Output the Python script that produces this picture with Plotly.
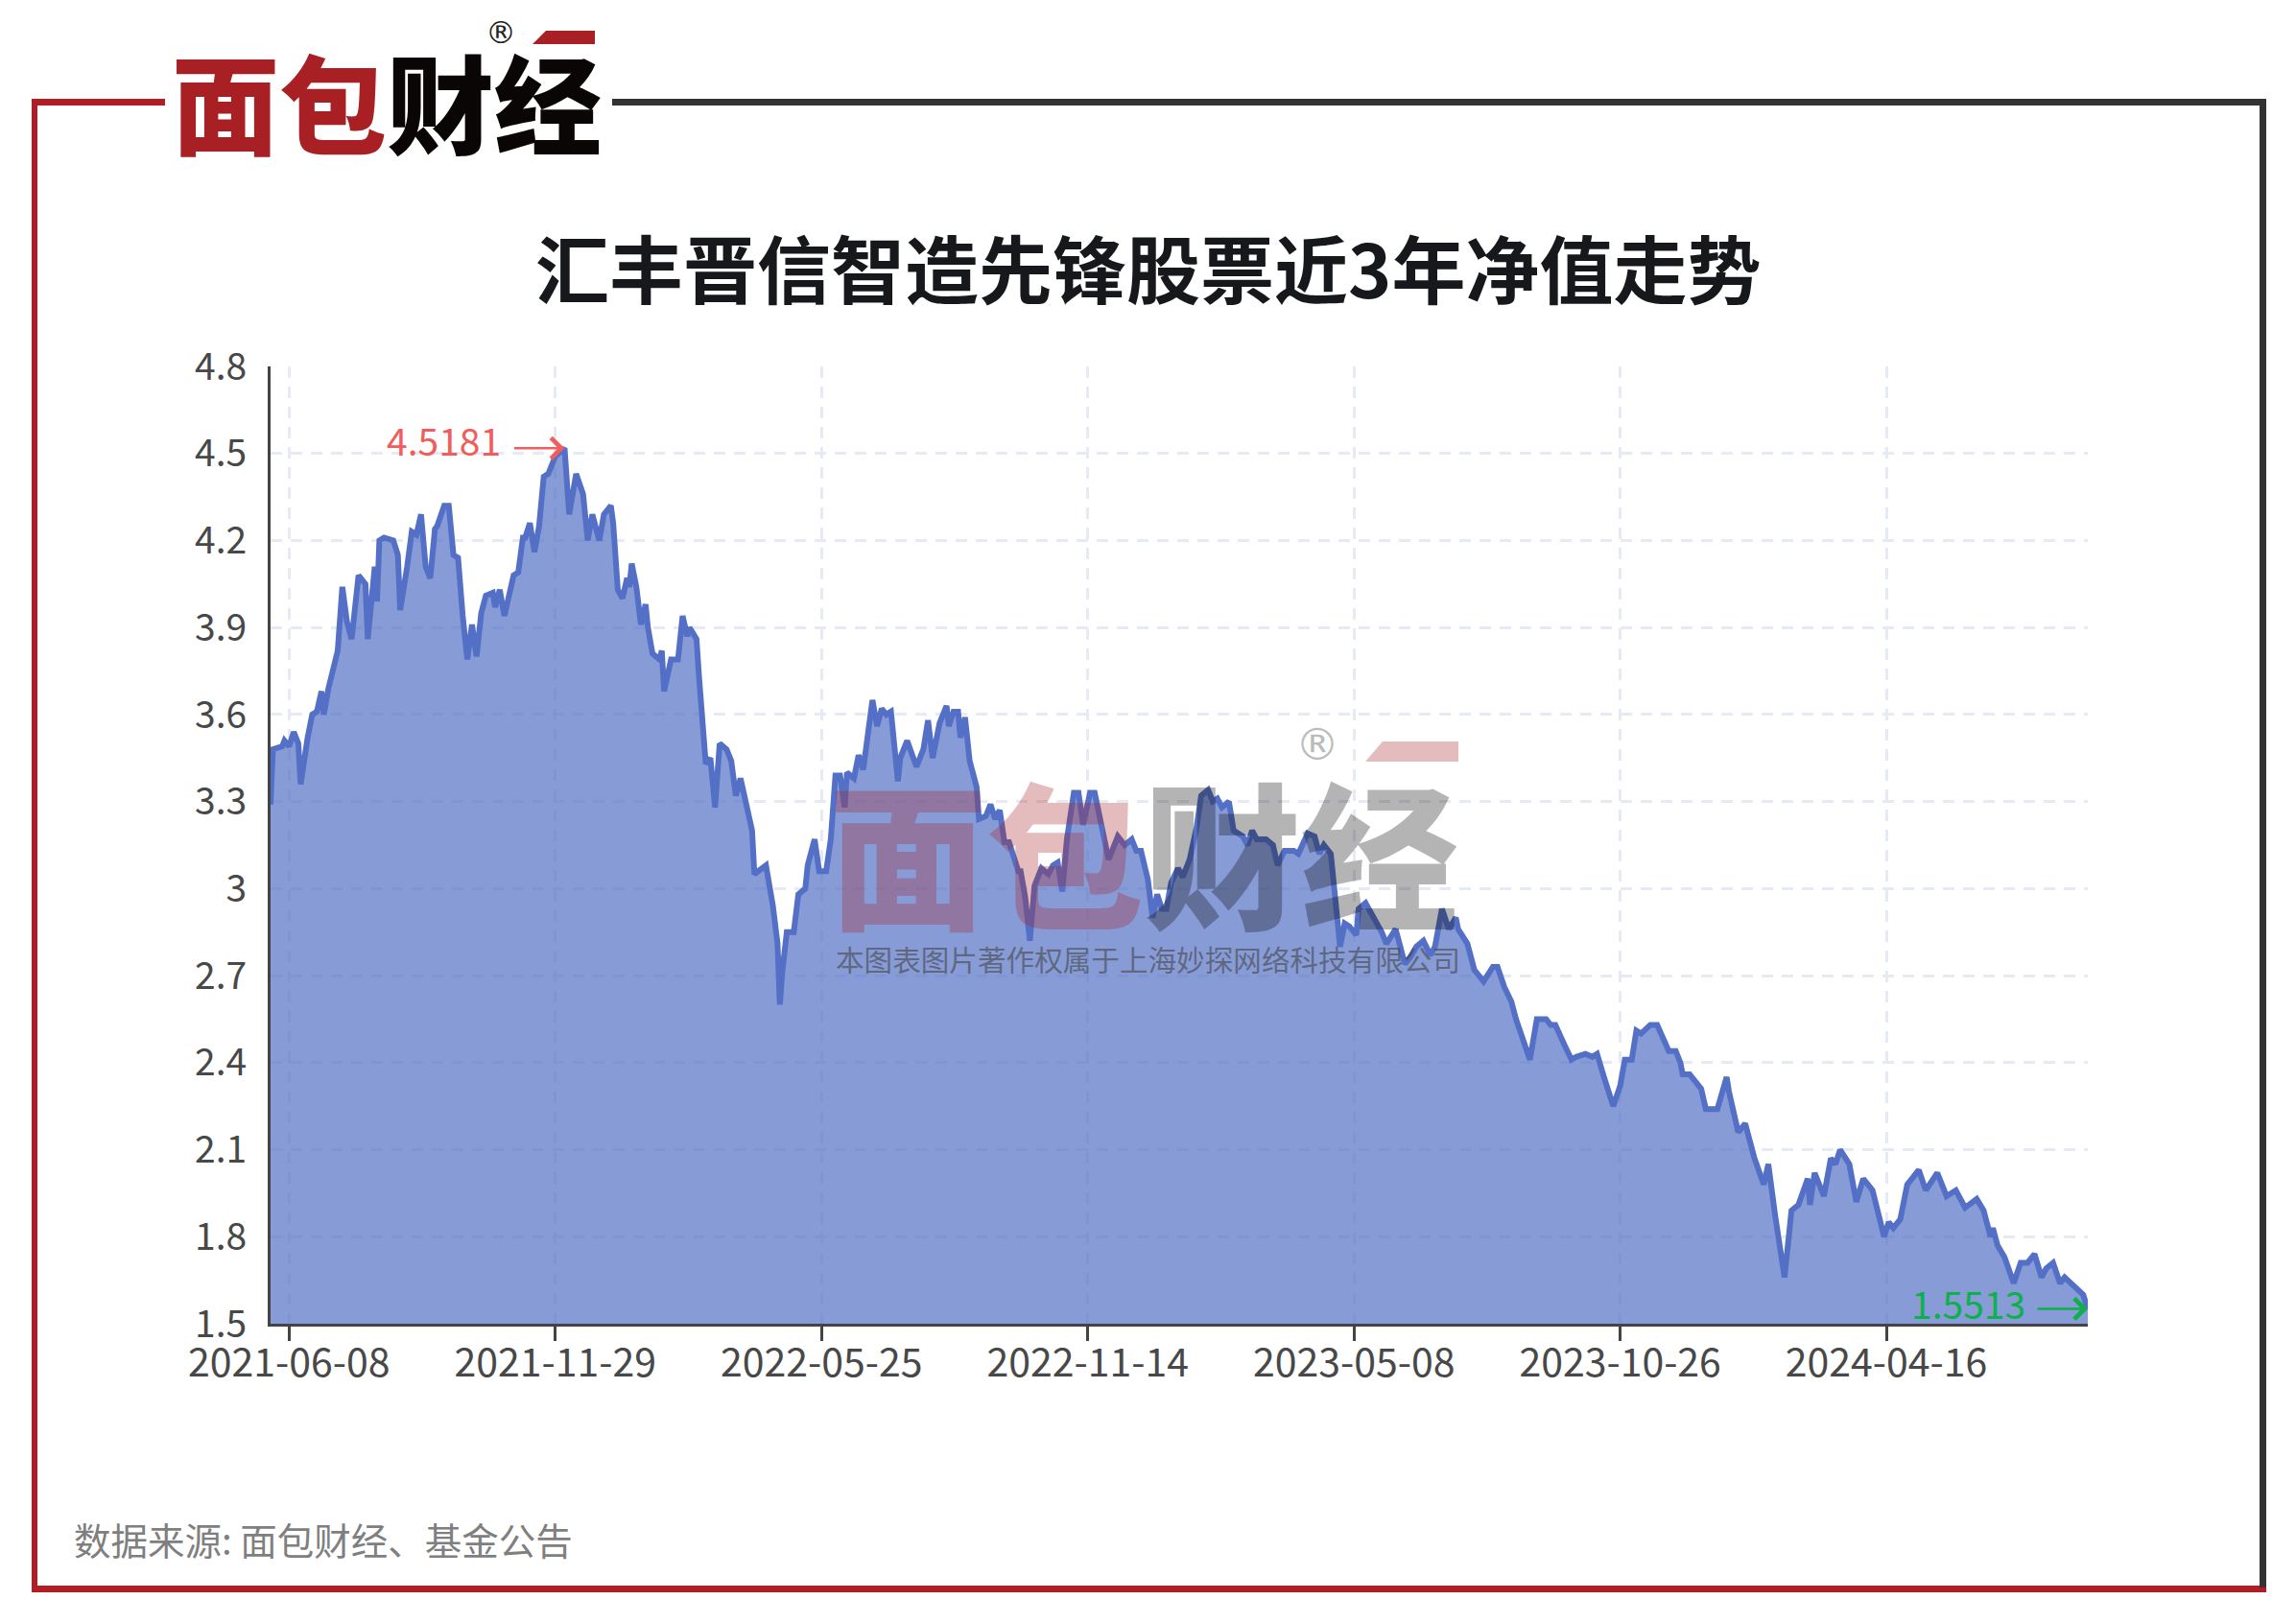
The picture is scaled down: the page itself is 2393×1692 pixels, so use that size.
import plotly.graph_objects as go

W, H = 2393, 1692

title_text = "汇丰晋信智造先锋股票近3年净值走势"
source_text = "数据来源: 面包财经、基金公告"
copyright_text = "本图表图片著作权属于上海妙探网络科技有限公司"
y_ticks = [1.5, 1.8, 2.1, 2.4, 2.7, 3.0, 3.3, 3.6, 3.9, 4.2, 4.5, 4.8]
y_labels = ["1.5", "1.8", "2.1", "2.4", "2.7", "3", "3.3", "3.6", "3.9", "4.2", "4.5", "4.8"]
x_tick_index = [8, 123, 238, 353, 468, 583, 698]
x_labels = ["2021-06-08", "2021-11-29", "2022-05-25", "2022-11-14", "2023-05-08", "2023-10-26", "2024-04-16"]

session = [
    0, 1, 5, 6, 8, 10, 12, 13, 16, 18, 20, 22, 23, 25, 29, 31, 33, 35, 38, 41, 42, 45, 46, 47, 49, 53, 55, 56, 59, 61,
    63, 65, 67, 69, 71, 72, 75, 77, 79, 81, 83, 85, 87, 89, 91, 93, 96, 97, 99, 101, 103, 105, 107, 109, 110, 112, 114, 116, 118, 120,
    123, 127, 129, 132, 135, 137, 139, 142, 144, 147, 148, 149, 150, 152, 154, 155, 156, 158, 160, 162, 163, 165, 168, 169, 170, 173, 176, 178, 180, 181,
    184, 185, 188, 190, 192, 194, 197, 199, 201, 203, 206, 208, 209, 214, 217, 219, 220, 221, 223, 226, 228, 231, 232, 235, 237, 240, 242, 244, 246, 248,
    249, 252, 254, 256, 258, 260, 262, 264, 266, 268, 271, 272, 275, 279, 282, 284, 286, 289, 292, 293, 295, 297, 298, 300, 302, 305, 306, 309, 311, 313,
    315, 317, 319, 321, 323, 324, 326, 328, 330, 333, 336, 338, 340, 342, 344, 347, 349, 351, 354, 356, 359, 362, 366, 369, 372, 374, 376, 379, 381, 383,
    385, 387, 389, 392, 394, 397, 400, 402, 405, 407, 409, 411, 414, 416, 420, 422, 424, 426, 430, 433, 435, 438, 442, 444, 448, 451, 453, 455, 458, 460,
    461, 462, 464, 466, 469, 470, 473, 476, 480, 482, 486, 488, 490, 492, 495, 498, 501, 503, 506, 509, 512, 513, 517, 520, 524, 528, 530, 533, 536, 538,
    541, 544, 547, 551, 553, 555, 559, 562, 564, 568, 571, 573, 576, 580, 583, 585, 588, 590, 592, 596, 599, 602, 604, 607, 609, 610, 613, 618, 620, 625,
    629, 630, 634, 637, 640, 641, 645, 647, 650, 654, 657, 660, 664, 665, 667, 671, 674, 676, 678, 682, 685, 688, 692, 697, 699, 701, 704, 707, 709, 712,
    715, 720, 724, 728, 732, 737, 740, 743, 744, 746, 749, 753, 756, 759, 762, 765, 767, 770, 773, 775, 779, 783, 785,
]
nav = [
    3.29, 3.48, 3.49, 3.51, 3.49, 3.54, 3.50, 3.36, 3.52, 3.60, 3.61, 3.68, 3.60, 3.69, 3.82, 4.04, 3.92, 3.86, 4.08, 4.05, 3.86, 4.11, 3.99, 4.20, 4.21, 4.20, 4.15, 3.96, 4.11, 4.23,
    4.22, 4.29, 4.11, 4.07, 4.24, 4.25, 4.32, 4.32, 4.15, 4.14, 3.94, 3.79, 3.91, 3.80, 3.95, 4.01, 4.02, 3.97, 4.03, 3.94, 4.01, 4.08, 4.09, 4.21, 4.21, 4.26, 4.16, 4.25, 4.42, 4.43,
    4.49, 4.5181, 4.29, 4.43, 4.36, 4.20, 4.29, 4.20, 4.29, 4.32, 4.26, 4.10, 4.03, 4.00, 4.07, 4.04, 4.12, 4.04, 3.91, 3.98, 3.90, 3.81, 3.79, 3.82, 3.68, 3.79, 3.79, 3.94, 3.87, 3.90,
    3.86, 3.74, 3.43, 3.45, 3.28, 3.50, 3.48, 3.44, 3.32, 3.38, 3.28, 3.20, 3.05, 3.08, 2.94, 2.81, 2.60, 2.71, 2.85, 2.85, 2.98, 3.00, 3.08, 3.17, 3.06, 3.06, 3.17, 3.39, 3.39, 3.28,
    3.40, 3.38, 3.46, 3.41, 3.53, 3.65, 3.56, 3.62, 3.60, 3.61, 3.37, 3.45, 3.51, 3.42, 3.48, 3.58, 3.45, 3.57, 3.63, 3.56, 3.61, 3.61, 3.52, 3.59, 3.44, 3.35, 3.24, 3.25, 3.29, 3.24,
    3.27, 3.16, 3.16, 3.11, 3.06, 3.06, 2.97, 2.82, 3.01, 3.07, 3.05, 3.08, 3.09, 2.99, 3.17, 3.33, 3.33, 3.22, 3.33, 3.33, 3.21, 3.10, 3.18, 3.15, 3.17, 3.13, 3.13, 3.03, 2.90, 2.98,
    2.93, 2.93, 3.02, 3.07, 3.04, 3.10, 3.21, 3.32, 3.34, 3.30, 3.31, 3.28, 3.30, 3.20, 3.18, 3.15, 3.20, 3.17, 3.17, 3.15, 3.08, 3.13, 3.13, 3.12, 3.19, 3.18, 3.12, 3.15, 3.12, 2.98,
    2.88, 2.80, 2.88, 2.87, 2.84, 2.93, 2.95, 2.91, 2.85, 2.81, 2.86, 2.80, 2.74, 2.76, 2.80, 2.82, 2.77, 2.80, 2.93, 2.86, 2.90, 2.86, 2.81, 2.72, 2.68, 2.73, 2.73, 2.66, 2.61, 2.55,
    2.48, 2.41, 2.55, 2.55, 2.53, 2.53, 2.46, 2.41, 2.42, 2.43, 2.42, 2.43, 2.35, 2.25, 2.32, 2.41, 2.41, 2.51, 2.50, 2.53, 2.53, 2.48, 2.44, 2.44, 2.40, 2.36, 2.36, 2.31, 2.24, 2.24,
    2.35, 2.30, 2.16, 2.19, 2.10, 2.07, 1.98, 2.05, 1.87, 1.66, 1.89, 1.91, 2.00, 1.91, 2.02, 1.94, 2.07, 2.05, 2.10, 2.05, 1.92, 2.00, 1.96, 1.80, 1.85, 1.83, 1.86, 1.98, 2.00, 2.03,
    1.96, 2.02, 1.94, 1.96, 1.90, 1.93, 1.89, 1.80, 1.83, 1.77, 1.73, 1.64, 1.71, 1.71, 1.74, 1.66, 1.69, 1.71, 1.64, 1.66, 1.63, 1.60, 1.5513,
]
peak_label = "4.5181"
last_label = "1.5513"

RED, DARK = "#b21c24", "#333333"
LOGO_RED, LOGO_BLACK = "#a82024", "#0a0606"
FONT = "Noto Sans CJK SC"


def fx(px):
    return px / W


def fy(py):
    return 1 - py / H


def block(x0, y0, x1, y1, color):
    return dict(type="rect", xref="paper", yref="paper", x0=fx(x0), x1=fx(x1), y0=fy(y0), y1=fy(y1),
                fillcolor=color, line_width=0, layer="above")


def poly(points, color):
    path = "M " + " L ".join(f"{fx(a):.5f},{fy(b):.5f}" for a, b in points) + " Z"
    return dict(type="path", xref="paper", yref="paper", path=path, fillcolor=color, line_width=0, layer="above")


def text(px, py, s, size, color, anchor="left", weight=None, family=FONT):
    return dict(xref="paper", yref="paper", x=fx(px), y=fy(py), text=s, showarrow=False, xanchor=anchor, yanchor="middle",
                font=dict(size=size, color=color, family=family, weight=weight))


fig = go.Figure(go.Scatter(x=session, y=nav, mode="lines", line=dict(color="#5470c6", width=6),
                           fill="tozeroy", fillcolor="rgba(84,112,198,0.70)", hoverinfo="skip"))

grid = dict(showgrid=True, gridcolor="#e6eaf4", gridwidth=3, griddash="12px,9px", zeroline=False, automargin=False)

shapes = [
    block(33, 103, 172, 110, RED), block(33, 103, 39, 1660, RED), block(33, 1653, 2362, 1660, RED),
    block(638, 103, 2362, 110, DARK), block(2355, 103, 2362, 1655, DARK),
    poly([(569, 32), (620, 32), (620, 46), (555, 46)], LOGO_RED),
    poly([(1441, 773), (1520, 773), (1520, 794), (1423, 794)], "rgba(168,32,36,0.30)"),
]

annotations = [
    text(1196, 278, title_text, 77, "#17181c", "center", 700),
    text(75, 1604, source_text, 38.5, "#7f7f7f"),
    text(177, 104, "面包", 112, LOGO_RED, weight=900),
    text(401, 104, "财经", 112, LOGO_BLACK, weight=900),
    text(522, 34, "®", 32, "#222222", "center", family="DejaVu Sans"),
    text(862, 884, "面包", 164, "rgba(168,32,36,0.30)", weight=900),
    text(1190, 884, "财经", 164, "rgba(10,6,6,0.30)", weight=900),
    text(1373, 776, "®", 46, "rgba(60,60,60,0.35)", "center", family="DejaVu Sans"),
    text(1196, 1000, copyright_text, 29.6, "rgba(70,70,70,0.62)", "center"),
    text(401, 458, peak_label, 39, "#f25c5c"),
    text(1990, 1358, last_label, 39, "#0eb04a"),
    dict(x=127, y=4.5181, xref="x", yref="y", ax=-54, ay=0, axref="pixel", ayref="pixel", text="", showarrow=True,
         arrowhead=4, arrowsize=1.6, arrowwidth=2.6, arrowcolor="#f25c5c"),
    dict(x=785, y=1.5513, xref="x", yref="y", ax=-54, ay=0, axref="pixel", ayref="pixel", text="", showarrow=True,
         arrowhead=4, arrowsize=1.6, arrowwidth=2.6, arrowcolor="#0eb04a"),
]

fig.update_layout(
    width=W, height=H, margin=dict(l=0, r=0, t=0, b=0, pad=0), paper_bgcolor="white", plot_bgcolor="white",
    showlegend=False, shapes=shapes, annotations=annotations, font=dict(family=FONT),
    xaxis=dict(domain=[fx(282), fx(2176)], range=[0, 785], tickmode="array", tickvals=x_tick_index, ticktext=x_labels,
               ticks="outside", ticklen=15, tickwidth=3, tickcolor="#444444", showline=True, linecolor="#444444", linewidth=3,
               tickfont=dict(size=41, color="#484848"), ticklabelstandoff=-12, **grid),
    yaxis=dict(domain=[fy(1380), fy(382)], range=[1.5, 4.8], tickmode="array", tickvals=y_ticks, ticktext=y_labels,
               ticks="", showline=True, linecolor="#444444", linewidth=3,
               tickfont=dict(size=39, color="#484848"), ticklabelstandoff=14, **grid),
)

fig.write_html("out.html", post_script="document.body.style.margin='0';", config={"displayModeBar": False})
